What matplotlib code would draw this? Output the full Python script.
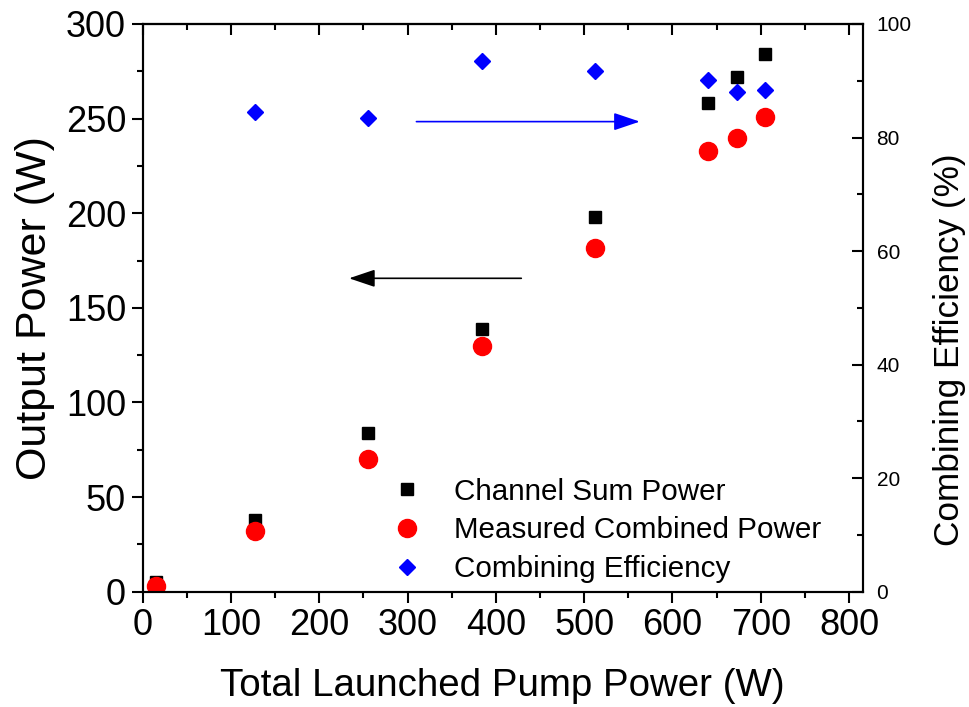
import numpy as np
from matplotlib import pyplot as plt
from matplotlib.ticker import MultipleLocator

plt.rcParams['font.family'] = ['Liberation Sans', 'DejaVu Sans']

pump = [15, 127, 255, 384, 512, 640, 673, 705]
channel_sum = [5, 38, 84, 139, 198, 258, 272, 284]
combined = [3, 32, 70, 130, 181.5, 233, 240, 251]
eff_pump = [127, 255, 384, 512, 640, 673, 705]
efficiency = [84.5, 83.4, 93.4, 91.7, 90.1, 88.1, 88.3]

fig = plt.figure(figsize=(9.69, 7.07), dpi=100)
ax = fig.add_axes([0.1473, 0.1631, 0.743, 0.803])
ax2 = ax.twinx()

sq, = ax.plot(pump, channel_sum, 's', color='black', markersize=8.6, linestyle='none')
ci, = ax.plot(pump, combined, 'o', color='red', markersize=13, linestyle='none')
di, = ax2.plot(eff_pump, efficiency, 'D', color='blue', markersize=8.6, linestyle='none')

ax.set_xlim(0, 815.5)
ax.set_ylim(0, 300)
ax2.set_ylim(0, 100)

ax.set_xticks(np.arange(0, 801, 100))
ax.set_xticks(np.arange(50, 801, 100), minor=True)
ax.yaxis.set_major_locator(MultipleLocator(50))
ax.yaxis.set_minor_locator(MultipleLocator(25))
ax2.yaxis.set_major_locator(MultipleLocator(20))
ax2.yaxis.set_minor_locator(MultipleLocator(10))

for a in (ax, ax2):
    for s in a.spines.values():
        s.set_linewidth(1.5)

ax.tick_params(axis='both', which='major', direction='out', length=8, width=1.5,
               labelsize=26, pad=4)
ax.tick_params(axis='both', which='minor', direction='out', length=4, width=1.5)
ax.tick_params(right=False, which='both')
ax2.tick_params(axis='y', which='major', direction='in', length=8, width=1.5,
                labelsize=15, pad=10)
ax2.tick_params(axis='y', which='minor', direction='in', length=4, width=1.5)

# ticks along the top edge point inward
top = ax.secondary_xaxis('top')
top.set_xticks(np.arange(0, 801, 100))
top.set_xticks(np.arange(50, 801, 100), minor=True)
top.tick_params(which='major', direction='in', length=8, width=1.5, labeltop=False)
top.tick_params(which='minor', direction='in', length=4, width=1.5)
top.spines['top'].set_linewidth(1.5)

ax.set_xlabel('Total Launched Pump Power (W)', fontsize=27.7, labelpad=18)
ax.set_ylabel('Output Power (W)', fontsize=31, labelpad=8)
ax2.set_ylabel('Combining Efficiency (%)', fontsize=25.3, labelpad=15)
ax2.yaxis.label.set_y(0.426)

# arrows pointing to the axis each series belongs to
ax2.annotate('', xy=(563, 82.8), xytext=(310, 82.8),
             arrowprops=dict(arrowstyle='-|>,head_length=0.8,head_width=0.27',
                             mutation_scale=20, color='blue', lw=1.2,
                             shrinkA=0, shrinkB=0))
ax.annotate('', xy=(233.7, 165.6), xytext=(428.8, 165.6),
            arrowprops=dict(arrowstyle='-|>,head_length=0.8,head_width=0.27',
                            mutation_scale=20, color='black', lw=1.2,
                            shrinkA=0, shrinkB=0))

ax2.legend([sq, ci, di],
           ['Channel Sum Power', 'Measured Combined Power', 'Combining Efficiency'],
           loc='lower left', bbox_to_anchor=(0.297, -0.021), frameon=False,
           fontsize=21.3, handletextpad=0.6, labelspacing=0.36, borderaxespad=0.3)

fig.savefig('out.png', dpi=100)
